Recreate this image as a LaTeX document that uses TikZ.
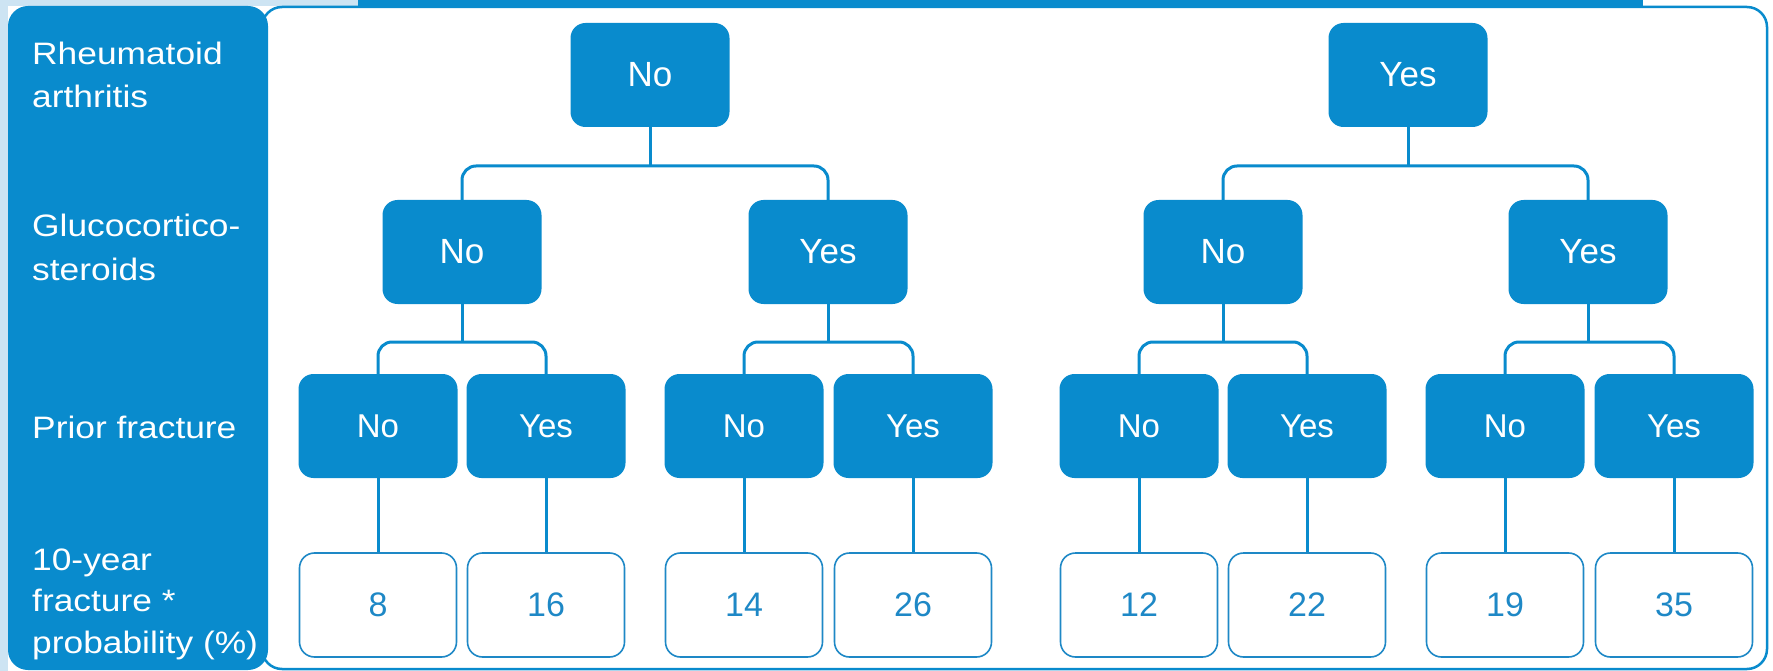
\documentclass[tikz,border=0pt]{standalone}
\usepackage{fontspec}
\setmainfont{Liberation Sans}
\newfontfamily\labfont[FakeStretch=1.14]{Liberation Sans}
\definecolor{mainblue}{RGB}{9,139,205}
\definecolor{lightblue}{RGB}{205,228,243}
\definecolor{valblue}{RGB}{30,136,198}
\begin{document}
\begin{tikzpicture}[x=1pt,y=-1pt,
  dec/.style={rectangle, rounded corners=15pt, fill=mainblue, text=white,
    minimum width=159pt, minimum height=104pt, inner sep=0pt,
    font=\fontsize{35}{40}\selectfont},
  val/.style={rectangle, rounded corners=15pt, draw=valblue, line width=1.6pt,
    fill=white, text=valblue, minimum width=157pt, minimum height=104pt,
    inner sep=0pt, font=\fontsize{34}{40}\selectfont},
  conn/.style={draw=mainblue, line width=3pt, rounded corners=14pt},
  lab/.style={anchor=base west, text=white, inner sep=0pt,
    font=\labfont\fontsize{31}{40}\selectfont}]
\useasboundingbox (0,0) rectangle (1773,671);
% background decorations
\fill[lightblue] (0,0) rectangle (8,671);
\fill[lightblue] (0,0) rectangle (358,6);
\draw[mainblue, line width=2.5pt, rounded corners=20pt] (262,7) rectangle (1767,669);
\fill[mainblue] (358,0) rectangle (1643,8);
\fill[mainblue, rounded corners=20pt] (8,6) rectangle (268,670);
% row labels
\node[lab] (la1) at (32,65) {Rheumatoid};
\node[lab] (la2) at (32,108) {arthritis};
\node[lab] (lb1) at (32,237) {Glucocortico-};
\node[lab] (lb2) at (32,280) {steroids};
\node[lab] (lc1) at (32,438) {Prior fracture};
\node[lab] (ld1) at (32,570) {10-year};
\node[lab] (ld2) at (32,611) {fracture *};
\node[lab] (ld3) at (32,653) {probability (\%)};
% bar levels
\coordinate (barA) at (0,166);
\coordinate (barB) at (0,342);
% level 1
\node[dec] (n) at (650,75) {No};
\node[dec] (y) at (1408,75) {Yes};
% level 2
\node[dec] (nn) at (462,252) {No};
\node[dec] (ny) at (828,252) {Yes};
\node[dec] (yn) at (1223,252) {No};
\node[dec] (yy) at (1588,252) {Yes};
% level 3
\node[dec, font=\fontsize{33}{40}\selectfont] (nnn) at (378,426) {No};
\node[dec, font=\fontsize{33}{40}\selectfont] (nny) at (546,426) {Yes};
\node[dec, font=\fontsize{33}{40}\selectfont] (nyn) at (744,426) {No};
\node[dec, font=\fontsize{33}{40}\selectfont] (nyy) at (913,426) {Yes};
\node[dec, font=\fontsize{33}{40}\selectfont] (ynn) at (1139,426) {No};
\node[dec, font=\fontsize{33}{40}\selectfont] (yny) at (1307,426) {Yes};
\node[dec, font=\fontsize{33}{40}\selectfont] (yyn) at (1505,426) {No};
\node[dec, font=\fontsize{33}{40}\selectfont] (yyy) at (1674,426) {Yes};
% values
\node[val] (v1) at (378,605) {8};
\node[val] (v2) at (546,605) {16};
\node[val] (v3) at (744,605) {14};
\node[val] (v4) at (913,605) {26};
\node[val] (v5) at (1139,605) {12};
\node[val] (v6) at (1307,605) {22};
\node[val] (v7) at (1505,605) {19};
\node[val] (v8) at (1674,605) {35};
% connectors level 1 -> 2
\draw[conn] (n.south) -- (n.south |- barA);
\draw[conn] (nn.north) -- (nn.north |- barA) -- (ny.north |- barA) -- (ny.north);
\draw[conn] (y.south) -- (y.south |- barA);
\draw[conn] (yn.north) -- (yn.north |- barA) -- (yy.north |- barA) -- (yy.north);
% connectors level 2 -> 3
\foreach \p/\a/\b in {nn/nnn/nny, ny/nyn/nyy, yn/ynn/yny, yy/yyn/yyy}{
  \draw[conn] (\p.south) -- (\p.south |- barB);
  \draw[conn] (\a.north) -- (\a.north |- barB) -- (\b.north |- barB) -- (\b.north);
}
% connectors level 3 -> values
\foreach \a/\b in {nnn/v1, nny/v2, nyn/v3, nyy/v4, ynn/v5, yny/v6, yyn/v7, yyy/v8}{
  \draw[mainblue, line width=3pt] (\a.south) -- (\b.north);
}
\end{tikzpicture}
\end{document}
